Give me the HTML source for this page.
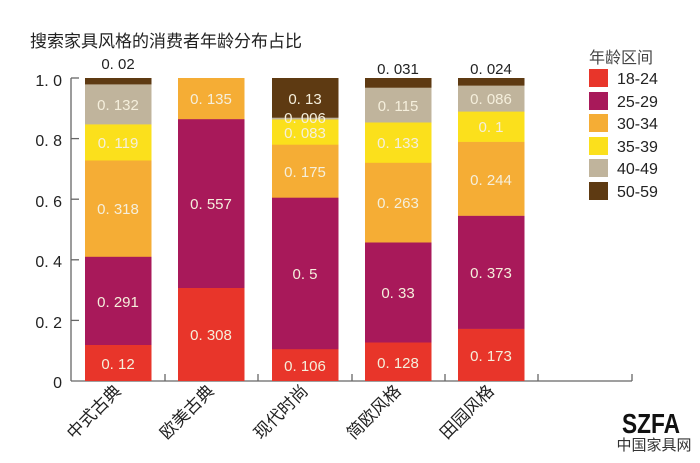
<!DOCTYPE html>
<html><head><meta charset="utf-8"><style>body{margin:0;background:#fff}svg{display:block}</style></head><body>
<svg width="700" height="463" xmlns="http://www.w3.org/2000/svg" font-family="'Liberation Sans','Noto Sans CJK SC',sans-serif">
<text x="30" y="47" font-size="17" fill="#222">搜索家具风格的消费者年龄分布占比</text>
<g stroke="#666" stroke-width="1.3">
<line x1="71" y1="78" x2="71" y2="381"/>
<line x1="71" y1="381" x2="632" y2="381"/>
<line x1="71" y1="78" x2="79" y2="78"/><line x1="71" y1="138.6" x2="79" y2="138.6"/><line x1="71" y1="199.2" x2="79" y2="199.2"/><line x1="71" y1="259.8" x2="79" y2="259.8"/><line x1="71" y1="320.4" x2="79" y2="320.4"/>
<line x1="165" y1="374" x2="165" y2="381"/><line x1="258" y1="374" x2="258" y2="381"/><line x1="352" y1="374" x2="352" y2="381"/><line x1="445" y1="374" x2="445" y2="381"/><line x1="538" y1="374" x2="538" y2="381"/><line x1="632" y1="374" x2="632" y2="381"/>
</g>
<g font-size="16" fill="#222" text-anchor="end">
<text x="62" y="86">1. 0</text><text x="62" y="146">0. 8</text><text x="62" y="207">0. 6</text><text x="62" y="267">0. 4</text><text x="62" y="328">0. 2</text><text x="62" y="388">0</text>
</g>
<g>
<rect x="85" y="344.6" width="66.5" height="36.4" fill="#e8352a"/>
<rect x="85" y="256.5" width="66.5" height="88.5" fill="#a8195a"/>
<rect x="85" y="160.1" width="66.5" height="96.7" fill="#f5ad35"/>
<rect x="85" y="124.1" width="66.5" height="36.4" fill="#fbe01c"/>
<rect x="85" y="84.1" width="66.5" height="40.3" fill="#c0b49c"/>
<rect x="85" y="78" width="66.5" height="6.4" fill="#5e3a12"/>

<rect x="178" y="287.7" width="66.5" height="93.3" fill="#e8352a"/>
<rect x="178" y="118.9" width="66.5" height="169.1" fill="#a8195a"/>
<rect x="178" y="78" width="66.5" height="41.2" fill="#f5ad35"/>

<rect x="272" y="348.9" width="66.5" height="32.1" fill="#e8352a"/>
<rect x="272" y="197.4" width="66.5" height="151.8" fill="#a8195a"/>
<rect x="272" y="144.4" width="66.5" height="53.3" fill="#f5ad35"/>
<rect x="272" y="119.2" width="66.5" height="25.5" fill="#fbe01c"/>
<rect x="272" y="117.4" width="66.5" height="2.1" fill="#c0b49c"/>
<rect x="272" y="78" width="66.5" height="39.7" fill="#5e3a12"/>

<rect x="365" y="342.2" width="66.5" height="38.8" fill="#e8352a"/>
<rect x="365" y="242.2" width="66.5" height="100.3" fill="#a8195a"/>
<rect x="365" y="162.5" width="66.5" height="80" fill="#f5ad35"/>
<rect x="365" y="122.2" width="66.5" height="40.6" fill="#fbe01c"/>
<rect x="365" y="87.4" width="66.5" height="35.1" fill="#c0b49c"/>
<rect x="365" y="78" width="66.5" height="9.7" fill="#5e3a12"/>

<rect x="458" y="328.6" width="66.5" height="52.4" fill="#e8352a"/>
<rect x="458" y="215.6" width="66.5" height="113.3" fill="#a8195a"/>
<rect x="458" y="141.6" width="66.5" height="74.2" fill="#f5ad35"/>
<rect x="458" y="111.3" width="66.5" height="30.6" fill="#fbe01c"/>
<rect x="458" y="85.3" width="66.5" height="26.3" fill="#c0b49c"/>
<rect x="458" y="78" width="66.5" height="7.6" fill="#5e3a12"/>
</g>
<g font-size="15" fill="#f5efdc" text-anchor="middle">
<text x="118" y="369">0. 12</text><text x="118" y="307">0. 291</text><text x="118" y="214">0. 318</text><text x="118" y="148">0. 119</text><text x="118" y="110">0. 132</text>
<text x="211" y="340">0. 308</text><text x="211" y="209">0. 557</text><text x="211" y="104">0. 135</text>
<text x="305" y="371">0. 106</text><text x="305" y="279">0. 5</text><text x="305" y="177">0. 175</text><text x="305" y="138">0. 083</text><text x="305" y="123">0. 006</text><text x="305" y="104">0. 13</text>
<text x="398" y="368">0. 128</text><text x="398" y="298">0. 33</text><text x="398" y="208">0. 263</text><text x="398" y="148">0. 133</text><text x="398" y="111">0. 115</text>
<text x="491" y="361">0. 173</text><text x="491" y="278">0. 373</text><text x="491" y="185">0. 244</text><text x="491" y="132">0. 1</text><text x="491" y="104">0. 086</text>
</g>
<g font-size="15" fill="#222" text-anchor="middle">
<text x="118" y="69">0. 02</text><text x="398" y="74">0. 031</text><text x="491" y="74">0. 024</text>
</g>
<g font-size="17" fill="#222">
<text transform="translate(122,392) rotate(-45)" text-anchor="end">中式古典</text>
<text transform="translate(215,392) rotate(-45)" text-anchor="end">欧美古典</text>
<text transform="translate(309,392) rotate(-45)" text-anchor="end">现代时尚</text>
<text transform="translate(402,392) rotate(-45)" text-anchor="end">简欧风格</text>
<text transform="translate(495,392) rotate(-45)" text-anchor="end">田园风格</text>
</g>
<text x="589" y="63" font-size="16" fill="#444">年龄区间</text>
<g font-size="16" fill="#222">
<rect x="589" y="69" width="19" height="18" fill="#e8352a"/><text x="617" y="84">18-24</text>
<rect x="589" y="92" width="19" height="18" fill="#a8195a"/><text x="617" y="107">25-29</text>
<rect x="589" y="114" width="19" height="18" fill="#f5ad35"/><text x="617" y="129">30-34</text>
<rect x="589" y="137" width="19" height="18" fill="#fbe01c"/><text x="617" y="152">35-39</text>
<rect x="589" y="159" width="19" height="18" fill="#c0b49c"/><text x="617" y="174">40-49</text>
<rect x="589" y="182" width="19" height="18" fill="#5e3a12"/><text x="617" y="197">50-59</text>
</g>
<text x="651" y="433" font-size="28" font-weight="bold" fill="#111" text-anchor="middle" textLength="58" lengthAdjust="spacingAndGlyphs">SZFA</text>
<text x="654" y="450" font-size="15" fill="#333" text-anchor="middle">中国家具网</text>
</svg>
</body></html>
